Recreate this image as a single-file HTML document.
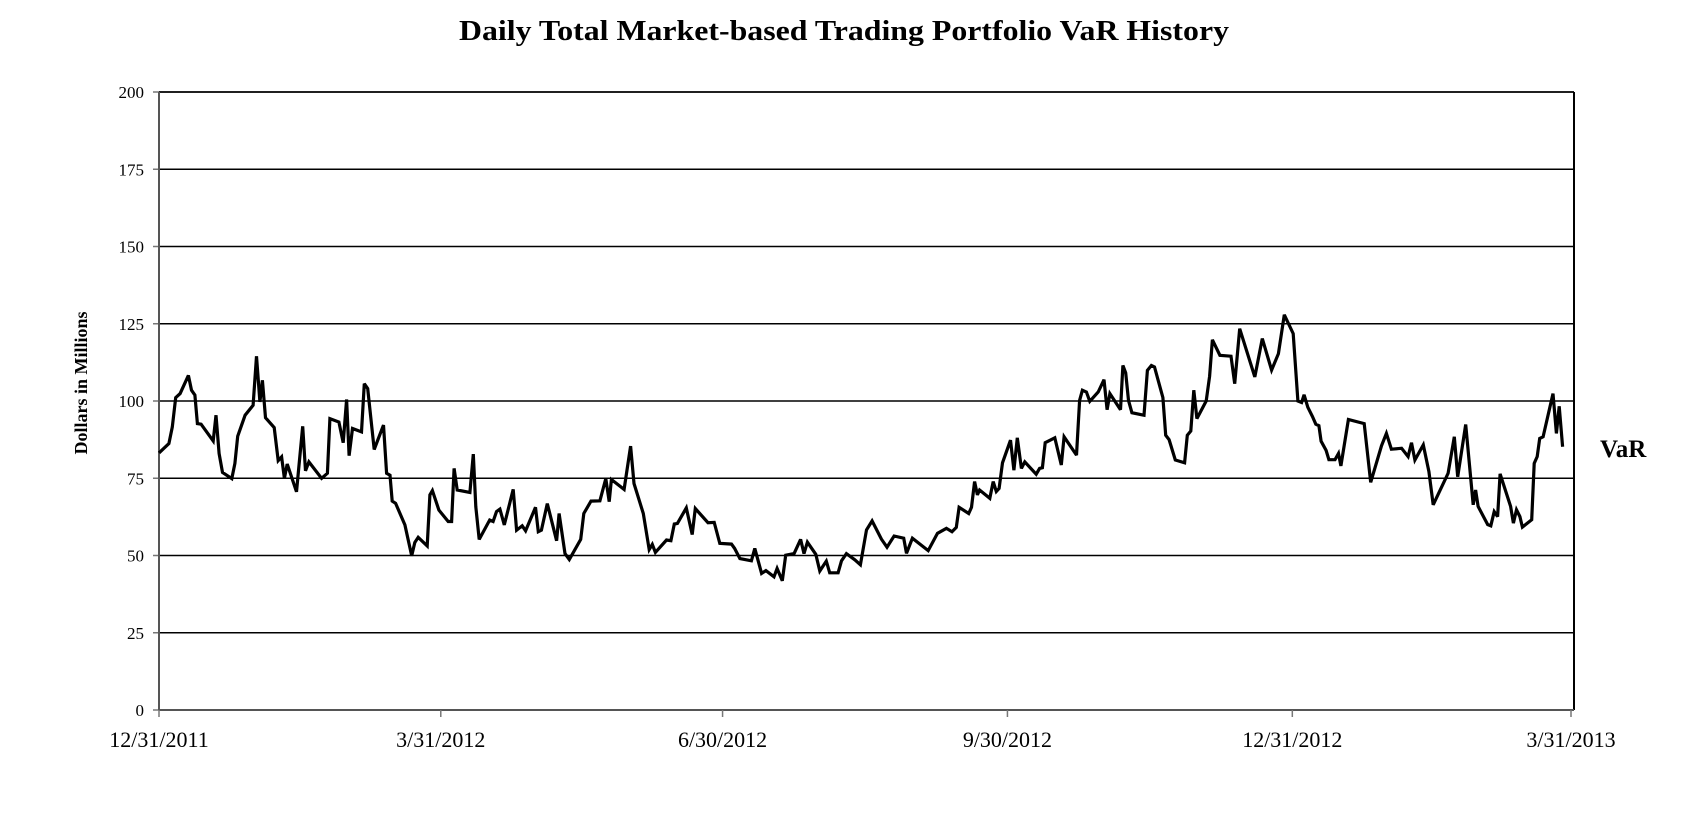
<!DOCTYPE html>
<html><head><meta charset="utf-8"><style>
html,body{margin:0;padding:0;background:#fff;}
svg{display:block;font-family:"Liberation Serif",serif;}
</style></head><body>
<svg id="chart" width="1687" height="813" viewBox="0 0 1687 813">
<text x="844" y="40" text-anchor="middle" font-size="29" font-weight="bold" textLength="770" lengthAdjust="spacingAndGlyphs">Daily Total Market-based Trading Portfolio VaR History</text>
<text transform="translate(87,383) rotate(-90)" text-anchor="middle" font-size="18" font-weight="bold">Dollars in Millions</text>
<text x="1600" y="457" font-size="25" font-weight="bold">VaR</text>
<g id="grid"></g><g id="axes"></g><g id="series"></g>
</svg>
<script>
const days=[0,3.2,4.3,5.4,6.8,9.5,10.5,11.6,12.4,13.6,17.5,18.4,19.4,20.5,23.5,24.5,25.4,27.8,30.4,31.5,32.6,33.4,34.4,37.2,38.5,39.6,40.5,41.4,44.4,46.4,47.3,48.4,52.5,54.4,55.2,58.1,59.5,60.6,61.4,62.5,65.4,66.3,67.4,69.5,72.5,73.5,74.6,75.3,76.4,79.4,81.6,82.6,83.7,86.6,87.5,88.3,90.4,93.4,94.5,95.3,96.3,100.4,101.5,102.3,103.4,106.8,107.9,109,110.1,111.5,114.4,115.5,117.3,118.4,121.6,122.5,123.5,125.4,128.4,129.2,131.1,132.5,136.2,137.2,139.5,142.4,144.3,145.4,146.1,150.2,152.3,153.4,156.4,158.3,159.3,160.3,163.9,165.3,166.4,167.4,170.3,172.2,173.2,177.3,179.3,181.1,184.9,185.9,187.6,191.3,192.4,194.6,196,198.6,199.6,201.3,202.4,205.1,207.2,208.3,209.4,212.1,213.4,215.5,216.6,219.3,220.4,222,224.7,226.5,228.5,230.3,233.3,235.1,237.4,240.5,241.4,243.3,248.4,251.4,254.3,256.1,257.5,258.4,261.5,262.4,263.4,264.3,265,268.3,269.4,270.4,271.3,272.4,275,276.1,277.2,278.5,279.6,283.3,284.4,285.3,286.2,289.3,291.4,292.3,296.3,297.3,298.2,299.5,300.6,303.3,305.2,306.2,307.1,310.5,311.3,312.2,313.1,314.2,318.1,319.2,320.5,321.5,324.2,325.1,326.2,328.2,331.2,332.1,333.2,334.2,335.2,338.2,339.3,340.2,342.6,346.2,347.4,349,353.9,356.3,359.3,361.5,363.4,366.3,367.8,369,369.8,371,372.5,373.6,374.6,375.3,376.9,377.8,379.8,380.9,381.7,384.1,389.2,391.3,394.8,396.4,398,401.3,403.4,404.5,405.6,408.3,410.1,411.5,416.3,418.3,419.4,422,424.4,425.2,426,429.1,430.1,431.2,432.3,433.1,436.5,437.4,438.4,439.5,440.3,443.3,444.1,445.1,445.9,447,450.2,451.3,452.2,453.3];
const values=[83.2,86.2,91.6,101.1,102.4,108.3,103.5,101.9,92.7,92.5,87.1,95.4,83,76.9,74.9,79.8,88.6,95.4,98.6,114.5,99.7,106.7,94.6,91.4,80.7,81.9,75,79.6,70.6,91.8,77.4,80.3,75,76.6,94.3,93.2,86.5,100.5,82.3,91.1,90,105.6,104,84.3,92.2,76.6,76,67.6,66.9,59.9,49.9,54.2,55.9,53.1,69.6,71,64.7,61,61,78.2,71.2,70.4,82.8,65.8,55.2,61.5,61,64.2,65,59.9,71.4,58.2,59.6,58,65.6,57.7,58.2,66.8,54.8,63.6,50.6,48.7,55.2,63.6,67.6,67.7,74.9,67.4,74.6,71.4,85.4,73.3,63.6,51.9,53.6,51,55,54.8,60.2,60.4,65.4,56.8,65.2,60.6,60.7,53.9,53.7,52.3,49,48.3,52.3,44.2,45.1,43.1,45.8,41.8,50.1,50.6,55.2,50.6,54.3,50.4,45,48.2,44.4,44.4,48.3,50.6,48.6,47,58.3,61.2,55.3,52.7,56.3,55.6,50.7,55.6,51.6,57.2,58.8,57.7,59.1,65.6,63.6,65.6,73.9,69.6,71.2,68.5,73.9,70.7,71.7,80,87.3,77.6,88.1,78.2,80.3,76.3,78.2,78.4,86.5,88.1,79.3,88.4,82.5,100.2,103.5,102.9,99.9,102.9,106.9,97.2,102.4,97.2,111.5,109.1,100.2,96.2,95.4,109.9,111.5,111,101.1,88.9,87.5,80.9,80,88.9,90.3,103.5,94.3,100,108,119.8,114.8,114.5,105.6,123.4,107.8,120.2,110,115.3,127.9,121.8,100,99.5,102,98,95,92.5,92,87,84,81,81,83,79,94,92.7,73.7,85.5,89.5,84.4,84.7,82,86.5,80.9,85.8,77.2,66.4,76.6,88.4,75.5,92.4,66.4,71.2,65.9,60,59.6,64.2,62.6,76.4,65.9,60.5,64.8,62.6,59.2,61.6,79.8,82,87.9,88.4,102.4,89.5,98.3,85.2];
const yTicks=[0,25,50,75,100,125,150,175,200];
const xTickDays=[0,91,182,274,366,456];
const xTickLabels=["12/31/2011","3/31/2012","6/30/2012","9/30/2012","12/31/2012","3/31/2013"];

(function(){
const NS="http://www.w3.org/2000/svg";
const L=159,R=1574,T=92,B=710,XMAX=456,YMAX=200,XR=1571;
const xs=d=>L+d*(XR-L)/XMAX;
const ys=v=>B-v*(B-T)/YMAX;
function mk(tag,attrs,parent){const e=document.createElementNS(NS,tag);for(const k in attrs)e.setAttribute(k,attrs[k]);parent.appendChild(e);return e;}
const grid=document.getElementById('grid'),axes=document.getElementById('axes'),series=document.getElementById('series');
yTicks.forEach(v=>{
  if(v>0){const g=mk('line',{x1:L,x2:R,y1:ys(v),y2:ys(v),stroke:'#000','stroke-width':1.5},grid);
  
  }
  const tk=mk('line',{x1:L-6,x2:L,y1:ys(v),y2:ys(v),stroke:'#777','stroke-width':1.5},axes);
  
  
  const t=mk('text',{x:L-15,y:ys(v)+6,'text-anchor':'end','font-size':17},axes);
  t.textContent=v;
  
  
});
const topBorder=mk('line',{x1:L,x2:R,y1:T,y2:T,stroke:'#000','stroke-width':1.5},axes);


const rb=mk('line',{x1:R,x2:R,y1:T,y2:B,stroke:'#000','stroke-width':2},axes);


const ya=mk('line',{x1:L,x2:L,y1:T,y2:B,stroke:'#555','stroke-width':2},axes);


const xa=mk('line',{x1:L,x2:R,y1:B,y2:B,stroke:'#555','stroke-width':2},axes);


xTickDays.forEach((d,i)=>{
  const tk=mk('line',{x1:xs(d),x2:xs(d),y1:B,y2:B+7,stroke:'#777','stroke-width':1.5},axes);
  
  
  const t=mk('text',{x:xs(d),y:747,'text-anchor':'middle','font-size':22},axes);
  t.textContent=xTickLabels[i];
  
  
});
const pts=days.map((d,i)=>xs(d).toFixed(1)+','+ys(values[i]).toFixed(1)).join(' ');
const pl=mk('polyline',{points:pts,fill:'none',stroke:'#000','stroke-width':3.2,'stroke-linejoin':'miter','stroke-miterlimit':3},series);


})();
</script>
</body></html>
